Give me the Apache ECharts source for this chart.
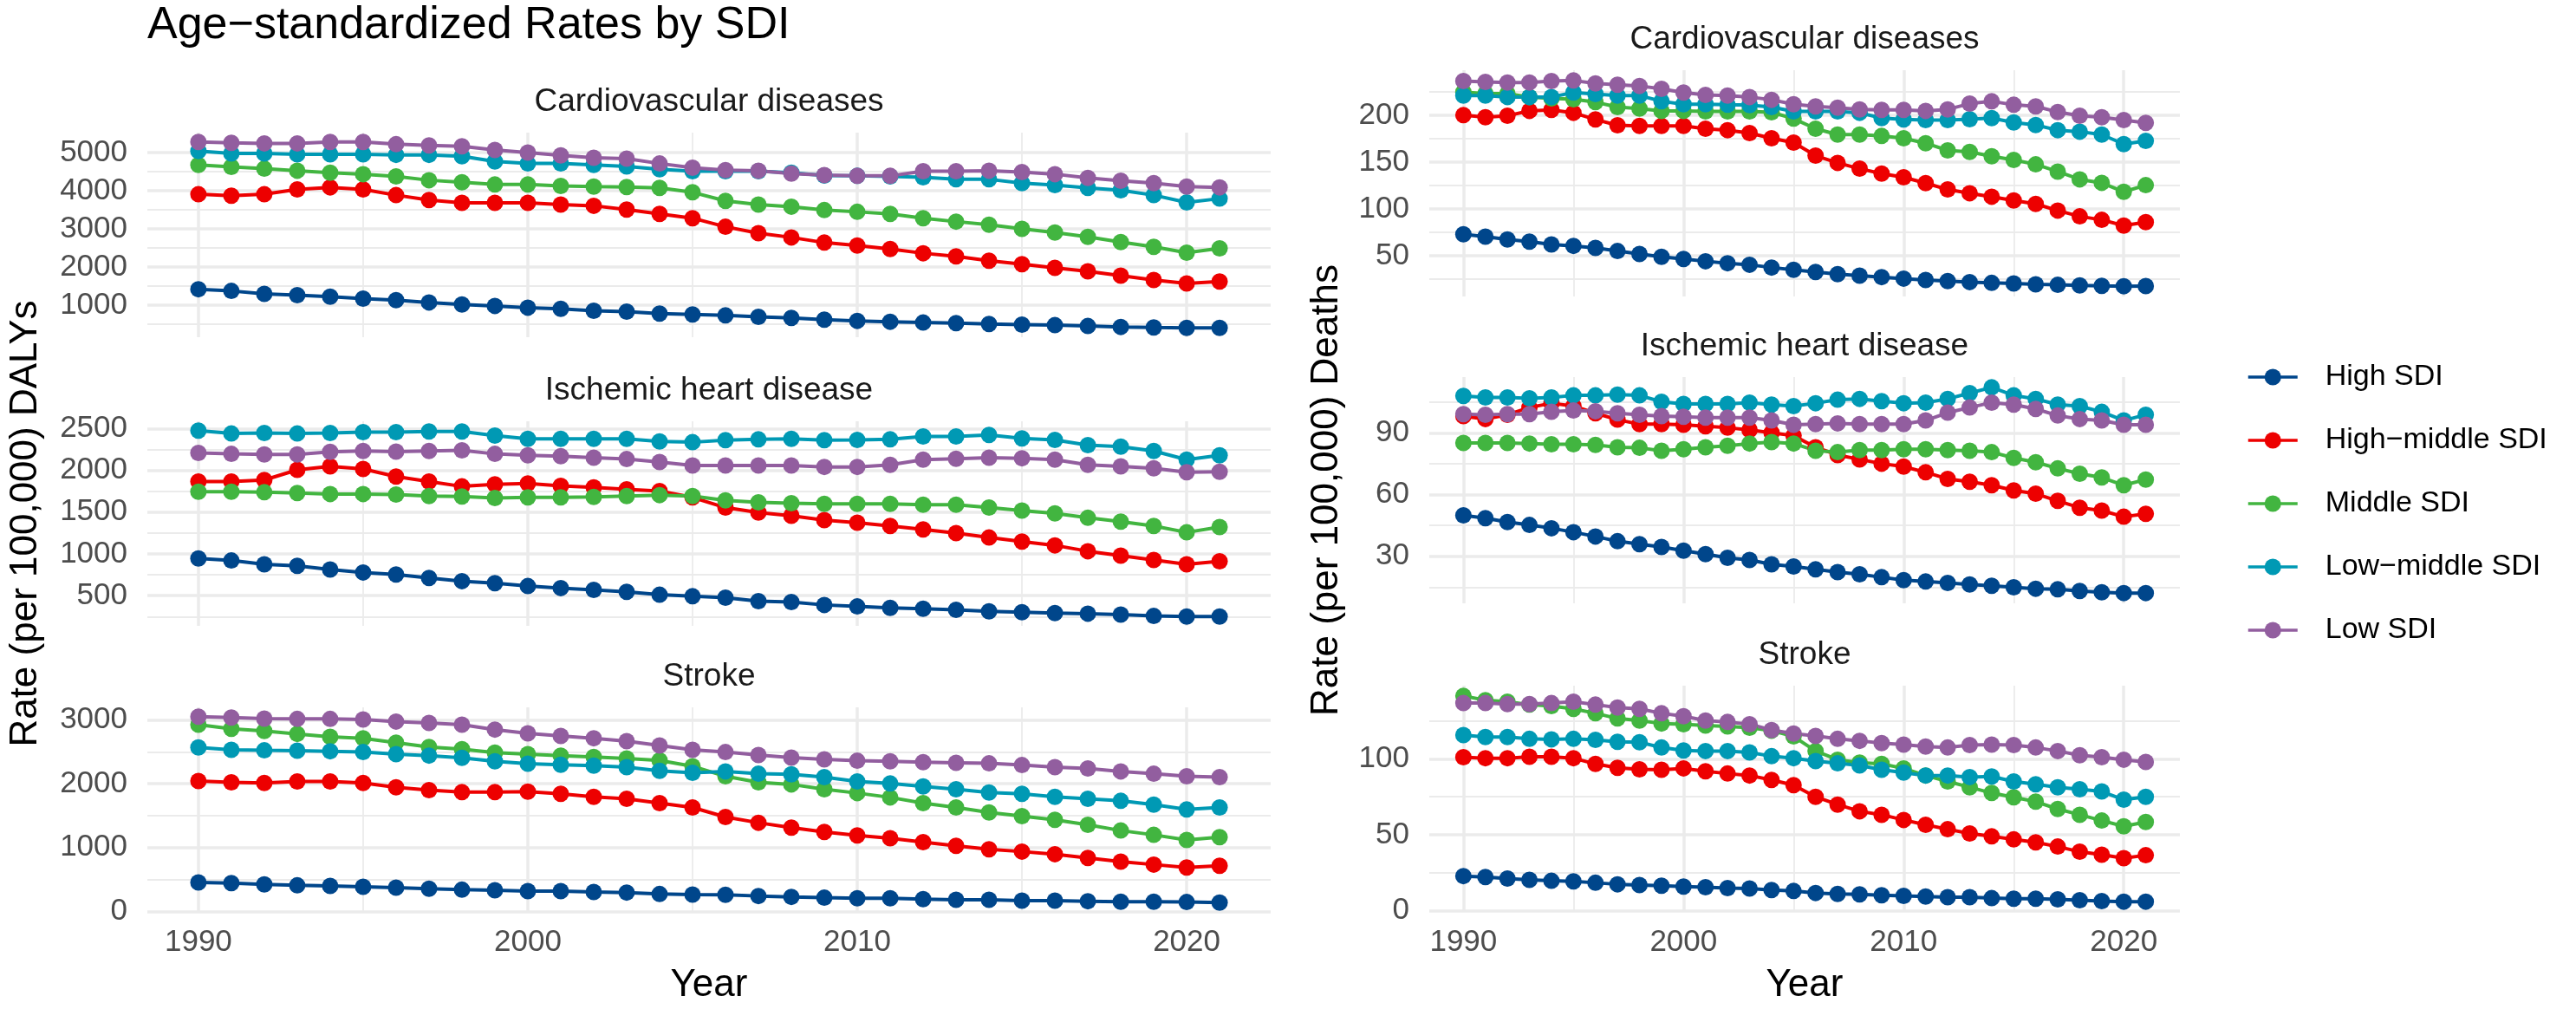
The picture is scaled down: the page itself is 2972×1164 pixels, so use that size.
<!DOCTYPE html>
<html>
<head>
<meta charset="utf-8">
<script src="https://cdn.jsdelivr.net/npm/echarts@6/dist/echarts.min.js"></script>
<style>
html,body{margin:0;padding:0;background:#ffffff;}
#chart{width:2972px;height:1164px;}
</style>
</head>
<body>
<div id="chart"></div>
<script>
// ---------------- DATA ----------------
const years = [1990,1991,1992,1993,1994,1995,1996,1997,1998,1999,2000,2001,2002,2003,2004,2005,2006,2007,2008,2009,2010,2011,2012,2013,2014,2015,2016,2017,2018,2019,2020,2021];
const groupNames = ['High SDI','High\u2212middle SDI','Middle SDI','Low\u2212middle SDI','Low SDI'];
const groupColors = ['#00468B','#ED0000','#42B540','#0099B4','#925E9F'];
const yearTicks = [1990,2000,2010,2020];
const yearMinorTicks = [1995,2005,2015];

// DALYs - Cardiovascular diseases
const dalysCvdHigh = [1415,1370,1294,1257,1219,1166,1128,1068,1015,977,932,902,849,826,774,751,728,691,660,615,585,562,540,525,502,487,472,449,426,411,400,402];
const dalysCvdHighMiddle = [3906,3868,3906,4034,4087,4034,3883,3755,3679,3679,3679,3634,3604,3506,3392,3279,3053,2887,2774,2638,2562,2472,2359,2276,2162,2072,1974,1883,1770,1657,1566,1619];
const dalysCvdMiddle = [4675,4623,4577,4525,4472,4434,4374,4275,4223,4162,4162,4125,4109,4094,4072,3958,3732,3634,3581,3491,3445,3392,3279,3189,3106,3000,2902,2789,2653,2525,2374,2487];
const dalysCvdLowMiddle = [5038,4977,4977,4955,4955,4955,4940,4940,4902,4766,4713,4713,4675,4638,4562,4509,4509,4509,4472,4396,4389,4374,4351,4298,4298,4200,4147,4072,4011,3883,3694,3792];
const dalysCvdLow = [5279,5257,5241,5241,5279,5279,5219,5189,5166,5068,5000,4925,4864,4842,4713,4600,4540,4525,4449,4411,4389,4389,4509,4509,4525,4487,4434,4336,4260,4200,4109,4087];
const dalysCvdTicks = [1000,2000,3000,4000,5000];
const dalysCvdMinorTicks = [500,1500,2500,3500,4500];

// DALYs - Ischemic heart disease
const dalysIhdHigh = [945,921,876,858,813,778,754,712,674,650,615,591,570,545,511,493,476,434,424,389,371,354,344,330,312,302,291,285,274,257,250,250];
const dalysIhdHighMiddle = [1867,1867,1884,2006,2048,2017,1926,1867,1808,1832,1843,1815,1797,1773,1752,1676,1554,1495,1457,1404,1373,1335,1293,1248,1196,1147,1102,1032,980,928,876,911];
const dalysIhdMiddle = [1745,1745,1738,1728,1717,1717,1710,1693,1686,1669,1676,1676,1683,1693,1704,1693,1641,1617,1606,1599,1599,1599,1589,1589,1554,1519,1484,1432,1387,1335,1258,1321];
const dalysIhdLowMiddle = [2476,2441,2448,2441,2448,2458,2458,2465,2465,2417,2378,2378,2378,2378,2347,2337,2361,2371,2378,2361,2364,2371,2406,2406,2423,2382,2364,2302,2284,2232,2128,2180];
const dalysIhdLow = [2208,2197,2190,2190,2222,2232,2225,2232,2239,2197,2180,2170,2152,2135,2100,2058,2058,2058,2058,2041,2041,2065,2128,2138,2152,2145,2128,2065,2048,2024,1978,1982];
const dalysIhdTicks = [500,1000,1500,2000,2500];
const dalysIhdMinorTicks = [250,750,1250,1750,2250];

// DALYs - Stroke
const dalysStrokeHigh = [452,443,421,407,398,385,371,353,339,330,317,317,303,294,271,262,258,240,226,213,204,204,190,181,181,167,167,158,149,149,145,136];
const dalysStrokeHighMiddle = [2045,2023,2014,2036,2036,2014,1946,1900,1869,1869,1878,1842,1796,1765,1697,1629,1480,1389,1312,1244,1190,1145,1086,1027,973,937,896,837,778,733,688,715];
const dalysStrokeMiddle = [2928,2864,2828,2783,2738,2715,2647,2579,2543,2489,2466,2443,2421,2398,2367,2276,2118,2023,1991,1914,1855,1787,1697,1629,1552,1493,1434,1357,1267,1199,1118,1163];
const dalysStrokeLowMiddle = [2570,2534,2525,2520,2511,2498,2466,2443,2407,2353,2317,2299,2285,2262,2204,2172,2195,2158,2149,2104,2036,2005,1959,1914,1864,1842,1796,1765,1733,1674,1597,1629];
const dalysStrokeLow = [3054,3041,3023,3018,3018,3009,2977,2955,2928,2851,2792,2751,2715,2670,2602,2534,2498,2453,2412,2385,2362,2353,2339,2330,2321,2294,2262,2240,2195,2158,2118,2104];
const dalysStrokeTicks = [0,1000,2000,3000];
const dalysStrokeMinorTicks = [500,1500,2500];

// Deaths - Cardiovascular diseases
const deathsCvdHigh = [72.9,70.4,67.3,65.1,62.0,60.5,58.4,55.0,51.9,48.8,46.6,44.1,42.0,40.4,37.4,34.9,32.7,30.3,28.7,27.2,25.6,24.1,22.9,21.9,21.0,20.4,19.5,18.9,18.3,17.8,17.5,17.6];
const deathsCvdHighMiddle = [200.0,197.8,199.4,204.6,205.6,202.5,195.4,189.2,188.6,188.6,188.6,185.5,184.0,180.9,175.3,170.7,156.8,149.1,142.9,137.7,133.7,127.5,120.7,116.7,113.0,109.0,105.3,98.2,92.0,88.3,82.1,85.8];
const deathsCvdMiddle = [224.7,223.1,223.1,219.4,217.9,217.0,213.9,208.6,207.1,204.6,204.6,204.0,204.0,204.0,203.1,196.3,185.5,179.3,179.3,177.8,175.3,170.1,162.4,160.8,156.2,152.2,147.5,139.8,131.5,127.8,118.2,125.3];
const deathsCvdLowMiddle = [221.0,221.0,219.4,219.4,219.4,224.1,222.5,221.0,221.0,214.8,211.7,211.7,211.1,210.8,208.6,204.0,204.0,204.0,202.5,196.9,195.4,194.8,194.8,195.7,196.9,192.3,189.5,184.0,182.4,179.3,169.1,172.5];
const deathsCvdLow = [236.4,235.5,234.9,234.9,236.4,237.0,233.9,232.4,231.2,228.1,224.1,221.6,221.0,219.4,216.4,211.7,209.3,208.0,206.2,205.6,205.6,204.6,206.2,212.3,214.8,211.1,209.3,203.4,199.4,197.8,194.8,191.7];
const deathsCvdTicks = [50,100,150,200];
const deathsCvdMinorTicks = [25,75,125,175,225];

// Deaths - Ischemic heart disease
const deathsIhdHigh = [49.9,48.5,46.6,45.2,43.6,41.7,39.6,37.3,35.9,34.5,32.7,31.0,29.2,28.2,26.1,25.0,23.6,22.3,21.2,19.8,18.4,17.7,17.0,16.3,15.6,14.9,14.2,13.9,13.1,12.5,12.1,12.1];
const deathsIhdHighMiddle = [98.1,96.7,98.8,102.3,104.4,103.0,99.5,96.4,94.2,94.2,93.9,93.2,92.5,91.4,90.0,88.6,83.0,79.2,77.1,75.0,73.6,70.8,67.6,66.2,64.5,62.0,60.4,56.9,53.6,52.2,49.2,50.6];
const deathsIhdMiddle = [85.1,85.1,85.1,84.8,84.4,84.4,84.1,83.0,82.7,81.3,82.0,83.0,83.7,84.8,85.5,84.8,81.3,80.6,81.6,81.6,82.0,82.0,81.6,81.3,80.6,77.8,75.7,72.7,70.1,68.3,64.5,67.3];
const deathsIhdLowMiddle = [107.9,107.2,107.2,106.8,107.2,108.2,108.2,108.6,108.2,105.1,104.0,104.0,104.0,104.7,103.7,103.0,104.4,106.1,106.5,105.4,104.4,104.7,106.5,109.3,112.1,108.2,106.5,103.7,103.0,100.2,96.0,98.8];
const deathsIhdLow = [99.1,98.8,99.1,99.1,100.2,100.9,100.5,99.5,98.8,98.1,97.8,97.4,97.4,97.4,96.0,93.9,94.2,94.6,94.2,94.2,94.2,96.0,99.8,102.3,104.7,103.7,101.6,98.4,96.7,96.0,93.9,93.9];
const deathsIhdTicks = [30,60,90];
const deathsIhdMinorTicks = [15,45,75,105];

// Deaths - Stroke
const deathsStrokeHigh = [22.9,22.3,21.3,20.4,19.8,19.4,18.5,17.5,17.0,16.6,16.0,15.6,15.0,14.7,13.7,13.1,11.8,11.2,10.9,10.3,9.9,9.5,9.0,9.0,8.4,8.0,8.0,7.6,7.0,6.5,6.1,6.1];
const deathsStrokeHighMiddle = [101.0,100.4,100.4,101.3,101.3,100.4,96.6,94.1,93.1,92.8,93.7,91.8,90.3,89.0,86.1,82.7,75.0,69.9,65.5,63.2,59.8,56.6,53.7,50.9,49.0,47.0,45.1,42.3,38.9,37.0,34.7,36.6];
const deathsStrokeMiddle = [141.3,138.5,137.5,135.6,134.7,132.8,129.9,126.5,125.1,123.2,122.7,121.9,121.3,120.4,118.5,114.7,105.1,99.4,97.5,96.6,93.7,89.0,85.1,81.3,77.5,74.7,71.8,67.0,63.2,59.4,55.6,58.5];
const deathsStrokeLowMiddle = [115.6,114.3,114.3,113.1,112.8,113.1,112.4,111.2,110.9,107.4,105.5,105.1,105.1,104.2,101.7,100.4,98.5,97.0,95.6,92.8,90.9,89.0,89.0,88.0,88.4,85.1,83.2,81.3,80.0,78.5,73.1,75.0];
const deathsStrokeLow = [136.6,136.6,136.0,136.0,136.6,137.5,135.6,133.7,132.8,129.9,128.0,125.1,124.2,122.7,118.9,116.6,115.0,113.1,111.8,110.3,109.3,108.0,107.4,109.0,109.3,109.0,107.4,105.1,102.3,101.0,99.4,97.9];
const deathsStrokeTicks = [0,50,100];
const deathsStrokeMinorTicks = [25,75,125];

// ---------------- LAYOUT / STYLE ----------------
const FONT = '"Liberation Sans", Arial, Helvetica, sans-serif';
const GRID_COLOR = '#EBEBEB';

const panels = [
  {title:'Cardiovascular diseases', grid:{left:170, top:153, width:1296, height:236}, data:[dalysCvdHigh,dalysCvdHighMiddle,dalysCvdMiddle,dalysCvdLowMiddle,dalysCvdLow], ticks:dalysCvdTicks, minor:dalysCvdMinorTicks, bottom:false, yName:null, yGap:0},
  {title:'Ischemic heart disease', grid:{left:170, top:486, width:1296, height:236}, data:[dalysIhdHigh,dalysIhdHighMiddle,dalysIhdMiddle,dalysIhdLowMiddle,dalysIhdLow], ticks:dalysIhdTicks, minor:dalysIhdMinorTicks, bottom:false, yName:'Rate (per 100,000) DALYs', yGap:118},
  {title:'Stroke', grid:{left:170, top:816, width:1296, height:236}, data:[dalysStrokeHigh,dalysStrokeHighMiddle,dalysStrokeMiddle,dalysStrokeLowMiddle,dalysStrokeLow], ticks:dalysStrokeTicks, minor:dalysStrokeMinorTicks, bottom:true, yName:null, yGap:0},
  {title:'Cardiovascular diseases', grid:{left:1649, top:81, width:866, height:261}, data:[deathsCvdHigh,deathsCvdHighMiddle,deathsCvdMiddle,deathsCvdLowMiddle,deathsCvdLow], ticks:deathsCvdTicks, minor:deathsCvdMinorTicks, bottom:false, yName:null, yGap:0},
  {title:'Ischemic heart disease', grid:{left:1649, top:435, width:866, height:261}, data:[deathsIhdHigh,deathsIhdHighMiddle,deathsIhdMiddle,deathsIhdLowMiddle,deathsIhdLow], ticks:deathsIhdTicks, minor:deathsIhdMinorTicks, bottom:false, yName:'Rate (per 100,000) Deaths', yGap:96},
  {title:'Stroke', grid:{left:1649, top:791, width:866, height:261}, data:[deathsStrokeHigh,deathsStrokeHighMiddle,deathsStrokeMiddle,deathsStrokeLowMiddle,deathsStrokeLow], ticks:deathsStrokeTicks, minor:deathsStrokeMinorTicks, bottom:true, yName:null, yGap:0}
];

// ggplot-like 5% expansion
function expand(lo, hi){ const p = (hi - lo) * 0.05; return [lo - p, hi + p]; }
const xExt = expand(years[0], years[years.length-1]);

const grids = [], xAxes = [], yAxes = [], series = [], titles = [];

titles.push({
  text: 'Age\u2212standardized Rates by SDI',
  left: 170, top: 30, padding: 0,
  textVerticalAlign: 'middle',
  textStyle: {fontFamily: FONT, fontSize: 52, fontWeight: 'normal', color: '#000000'}
});

panels.forEach((p, i) => {
  grids.push(Object.assign({containLabel: false}, p.grid));
  const all = [].concat(...p.data);
  const yExt = expand(Math.min(...all), Math.max(...all));
  titles.push({
    text: p.title,
    left: p.grid.left + p.grid.width / 2,
    top: p.grid.top - 35,
    padding: 0,
    textAlign: 'center',
    textVerticalAlign: 'middle',
    textStyle: {fontFamily: FONT, fontSize: 37, fontWeight: 'normal', color: '#1A1A1A'}
  });
  // major x
  xAxes.push({
    type: 'value', gridIndex: i, min: xExt[0], max: xExt[1],
    axisLine: {show: false},
    axisTick: {show: false, customValues: yearTicks},
    axisLabel: {show: p.bottom, customValues: yearTicks, margin: 18, formatter: v => String(v),
      fontFamily: FONT, fontSize: 35, color: '#4D4D4D'},
    splitLine: {show: true, lineStyle: {color: GRID_COLOR, width: 3.5}},
    name: p.bottom ? 'Year' : '',
    nameLocation: 'middle', nameGap: 63,
    nameTextStyle: {fontFamily: FONT, fontSize: 44, color: '#000000'}
  });
  // minor x
  xAxes.push({
    type: 'value', gridIndex: i, min: xExt[0], max: xExt[1],
    axisLine: {show: false},
    axisTick: {show: false, customValues: yearMinorTicks},
    axisLabel: {show: false, customValues: yearMinorTicks},
    splitLine: {show: true, lineStyle: {color: GRID_COLOR, width: 1.8}}
  });
  // major y
  yAxes.push({
    type: 'value', gridIndex: i, min: yExt[0], max: yExt[1],
    axisLine: {show: false},
    axisTick: {show: false, customValues: p.ticks},
    axisLabel: {show: true, customValues: p.ticks, margin: 23, formatter: v => String(v),
      fontFamily: FONT, fontSize: 35, color: '#4D4D4D'},
    splitLine: {show: true, lineStyle: {color: GRID_COLOR, width: 3.5}},
    name: p.yName || '',
    nameLocation: 'middle', nameRotate: 90, nameGap: p.yGap,
    nameTextStyle: {fontFamily: FONT, fontSize: 44, color: '#000000'}
  });
  // minor y
  yAxes.push({
    type: 'value', gridIndex: i, min: yExt[0], max: yExt[1],
    axisLine: {show: false},
    axisTick: {show: false, customValues: p.minor},
    axisLabel: {show: false, customValues: p.minor},
    splitLine: {show: true, lineStyle: {color: GRID_COLOR, width: 1.8}}
  });
  p.data.forEach((vals, k) => {
    series.push({
      name: groupNames[k],
      type: 'line',
      xAxisIndex: 2 * i, yAxisIndex: 2 * i,
      data: years.map((y, j) => [y, vals[j]]),
      symbol: 'circle', symbolSize: 19, showSymbol: true,
      lineStyle: {color: groupColors[k], width: 4},
      itemStyle: {color: groupColors[k]},
      emphasis: {disabled: true},
      silent: true
    });
  });
});

const option = {
  backgroundColor: '#ffffff',
  animation: false,
  title: titles,
  grid: grids,
  xAxis: xAxes,
  yAxis: yAxes,
  legend: {
    orient: 'vertical',
    left: 2592, top: 418,
    padding: 0,
    itemWidth: 57, itemHeight: 24, itemGap: 39,
    data: groupNames,
    lineStyle: {width: 3.5},
    textStyle: {fontFamily: FONT, fontSize: 34, color: '#000000', padding: [0, 0, 0, 27]},
    selectedMode: false
  },
  series: series
};

const chart = echarts.init(document.getElementById('chart'), null, {renderer: 'canvas'});
chart.setOption(option);
</script>
</body>
</html>
